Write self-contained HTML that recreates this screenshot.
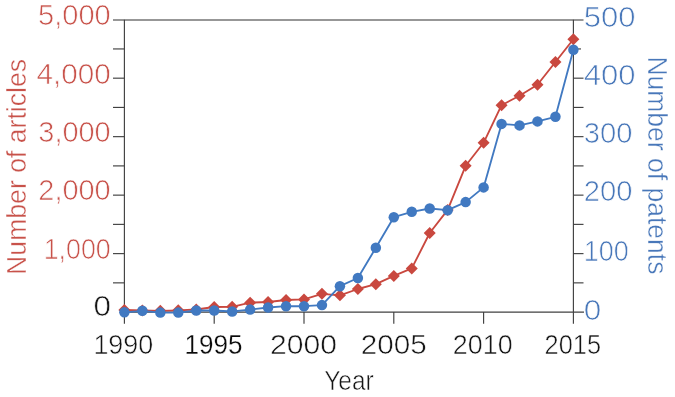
<!DOCTYPE html>
<html><head><meta charset="utf-8"><title>Chart</title>
<style>html,body{margin:0;padding:0;background:#fff}svg{display:block}text{font-family:"Liberation Sans",sans-serif;font-size:28.6px;stroke:#fff;stroke-width:0.7px}.t{font-size:26.8px;stroke-width:0.45px}.x{font-size:28px}.k{stroke-width:0.55px}.b{stroke-width:0.3px}</style></head><body>
<svg width="675" height="397" viewBox="0 0 675 397">
<rect width="675" height="397" fill="#fff"/>
<line x1="113" y1="20.0" x2="583.5" y2="20.0" stroke="#747474" stroke-width="1.6"/>
<line x1="124.4" y1="19.7" x2="124.4" y2="323.7" stroke="#404040" stroke-width="1.15"/>
<line x1="573.4" y1="19.7" x2="573.4" y2="323.7" stroke="#404040" stroke-width="1.15"/>
<line x1="124.4" y1="312.1" x2="584" y2="312.1" stroke="#404040" stroke-width="1.15"/>
<line x1="113" y1="48.94" x2="124.4" y2="48.94" stroke="#404040" stroke-width="1.15"/>
<line x1="573.4" y1="48.94" x2="581" y2="48.94" stroke="#404040" stroke-width="1.15"/>
<line x1="113" y1="78.18" x2="124.4" y2="78.18" stroke="#404040" stroke-width="1.15"/>
<line x1="573.4" y1="78.18" x2="583.5" y2="78.18" stroke="#404040" stroke-width="1.15"/>
<line x1="113" y1="107.42" x2="124.4" y2="107.42" stroke="#404040" stroke-width="1.15"/>
<line x1="573.4" y1="107.42" x2="583.5" y2="107.42" stroke="#404040" stroke-width="1.15"/>
<line x1="113" y1="136.66" x2="124.4" y2="136.66" stroke="#404040" stroke-width="1.15"/>
<line x1="573.4" y1="136.66" x2="583.5" y2="136.66" stroke="#404040" stroke-width="1.15"/>
<line x1="113" y1="165.90" x2="124.4" y2="165.90" stroke="#404040" stroke-width="1.15"/>
<line x1="573.4" y1="165.90" x2="583.5" y2="165.90" stroke="#404040" stroke-width="1.15"/>
<line x1="113" y1="195.14" x2="124.4" y2="195.14" stroke="#404040" stroke-width="1.15"/>
<line x1="573.4" y1="195.14" x2="583.5" y2="195.14" stroke="#404040" stroke-width="1.15"/>
<line x1="113" y1="224.38" x2="124.4" y2="224.38" stroke="#404040" stroke-width="1.15"/>
<line x1="573.4" y1="224.38" x2="583.5" y2="224.38" stroke="#404040" stroke-width="1.15"/>
<line x1="113" y1="253.62" x2="124.4" y2="253.62" stroke="#404040" stroke-width="1.15"/>
<line x1="573.4" y1="253.62" x2="583.5" y2="253.62" stroke="#404040" stroke-width="1.15"/>
<line x1="113" y1="282.86" x2="124.4" y2="282.86" stroke="#404040" stroke-width="1.15"/>
<line x1="573.4" y1="282.86" x2="583.5" y2="282.86" stroke="#404040" stroke-width="1.15"/>
<line x1="214.20" y1="312.1" x2="214.20" y2="323.7" stroke="#404040" stroke-width="1.15"/>
<line x1="304.00" y1="312.1" x2="304.00" y2="323.7" stroke="#404040" stroke-width="1.15"/>
<line x1="393.80" y1="312.1" x2="393.80" y2="323.7" stroke="#404040" stroke-width="1.15"/>
<line x1="483.60" y1="312.1" x2="483.60" y2="323.7" stroke="#404040" stroke-width="1.15"/>
<text x="110.7" y="25.4" text-anchor="end" fill="#c8524a" textLength="72.7" lengthAdjust="spacingAndGlyphs">5,000</text>
<text x="110.7" y="83.6" text-anchor="end" fill="#c8524a" textLength="74.3" lengthAdjust="spacingAndGlyphs">4,000</text>
<text x="110.7" y="142.0" text-anchor="end" fill="#c8524a" textLength="72.4" lengthAdjust="spacingAndGlyphs">3,000</text>
<text x="110.7" y="200.1" text-anchor="end" fill="#c8524a" textLength="72.4" lengthAdjust="spacingAndGlyphs">2,000</text>
<text x="110.7" y="258.7" text-anchor="end" fill="#c8524a" textLength="67.0" lengthAdjust="spacingAndGlyphs">1,000</text>
<text x="111" y="316.3" text-anchor="end" class="k" fill="#151515" textLength="17.5" lengthAdjust="spacingAndGlyphs">0</text>
<text x="583.8" y="26.9" fill="#4877b9" textLength="51.8" lengthAdjust="spacingAndGlyphs">500</text>
<text x="583.8" y="84.9" fill="#4877b9" textLength="51.8" lengthAdjust="spacingAndGlyphs">400</text>
<text x="583.8" y="143" fill="#4877b9" textLength="48.8" lengthAdjust="spacingAndGlyphs">300</text>
<text x="583.8" y="201.3" fill="#4877b9" textLength="48.8" lengthAdjust="spacingAndGlyphs">200</text>
<text x="583.8" y="260.8" fill="#4877b9" textLength="45" lengthAdjust="spacingAndGlyphs">100</text>
<text x="583.8" y="319.5" fill="#4877b9" textLength="17.5" lengthAdjust="spacingAndGlyphs">0</text>
<text class="x k" x="93.4" y="354.1" fill="#151515" textLength="59.9" lengthAdjust="spacingAndGlyphs">1990</text>
<text class="x b" x="184.6" y="354.1" fill="#0a0a0a" textLength="58.0" lengthAdjust="spacingAndGlyphs">1995</text>
<text class="x k" x="270" y="354.1" fill="#151515" textLength="67.0" lengthAdjust="spacingAndGlyphs">2000</text>
<text class="x k" x="360.8" y="354.1" fill="#151515" textLength="66.0" lengthAdjust="spacingAndGlyphs">2005</text>
<text class="x k" x="452.8" y="354.1" fill="#151515" textLength="59.8" lengthAdjust="spacingAndGlyphs">2010</text>
<text class="x k" x="544.6" y="354.1" fill="#151515" textLength="56.4" lengthAdjust="spacingAndGlyphs">2015</text>
<text class="x k" x="324.2" y="390" fill="#151515" textLength="49.5" lengthAdjust="spacingAndGlyphs">Year</text>
<text class="t" transform="translate(25.7,274.9) rotate(-90)" fill="#c8524a" textLength="216" lengthAdjust="spacingAndGlyphs">Number of articles</text>
<text class="t" transform="translate(648.2,56.4) rotate(90)" fill="#4877b9" textLength="218" lengthAdjust="spacingAndGlyphs">Number of patents</text>
<polyline points="124.40,310.00 142.36,310.50 160.32,310.80 178.28,310.30 196.24,309.50 214.20,307.00 232.16,306.80 250.12,302.70 268.08,302.00 286.04,300.00 304.00,299.40 321.96,293.80 339.92,295.30 357.88,289.00 375.84,284.20 393.80,275.90 411.76,268.40 429.72,233.00 447.68,209.90 465.64,165.80 483.60,142.80 501.56,105.20 519.52,95.80 537.48,84.80 555.44,62.00 573.40,39.20" fill="none" stroke="#c9483f" stroke-width="1.85" stroke-linejoin="round"/>
<path d="M124.40 304.00L130.40 310.00L124.40 316.00L118.40 310.00Z" fill="#c9483f"/>
<path d="M142.36 304.50L148.36 310.50L142.36 316.50L136.36 310.50Z" fill="#c9483f"/>
<path d="M160.32 304.80L166.32 310.80L160.32 316.80L154.32 310.80Z" fill="#c9483f"/>
<path d="M178.28 304.30L184.28 310.30L178.28 316.30L172.28 310.30Z" fill="#c9483f"/>
<path d="M196.24 303.50L202.24 309.50L196.24 315.50L190.24 309.50Z" fill="#c9483f"/>
<path d="M214.20 301.00L220.20 307.00L214.20 313.00L208.20 307.00Z" fill="#c9483f"/>
<path d="M232.16 300.80L238.16 306.80L232.16 312.80L226.16 306.80Z" fill="#c9483f"/>
<path d="M250.12 296.70L256.12 302.70L250.12 308.70L244.12 302.70Z" fill="#c9483f"/>
<path d="M268.08 296.00L274.08 302.00L268.08 308.00L262.08 302.00Z" fill="#c9483f"/>
<path d="M286.04 294.00L292.04 300.00L286.04 306.00L280.04 300.00Z" fill="#c9483f"/>
<path d="M304.00 293.40L310.00 299.40L304.00 305.40L298.00 299.40Z" fill="#c9483f"/>
<path d="M321.96 287.80L327.96 293.80L321.96 299.80L315.96 293.80Z" fill="#c9483f"/>
<path d="M339.92 289.30L345.92 295.30L339.92 301.30L333.92 295.30Z" fill="#c9483f"/>
<path d="M357.88 283.00L363.88 289.00L357.88 295.00L351.88 289.00Z" fill="#c9483f"/>
<path d="M375.84 278.20L381.84 284.20L375.84 290.20L369.84 284.20Z" fill="#c9483f"/>
<path d="M393.80 269.90L399.80 275.90L393.80 281.90L387.80 275.90Z" fill="#c9483f"/>
<path d="M411.76 262.40L417.76 268.40L411.76 274.40L405.76 268.40Z" fill="#c9483f"/>
<path d="M429.72 227.00L435.72 233.00L429.72 239.00L423.72 233.00Z" fill="#c9483f"/>
<path d="M447.68 203.90L453.68 209.90L447.68 215.90L441.68 209.90Z" fill="#c9483f"/>
<path d="M465.64 159.80L471.64 165.80L465.64 171.80L459.64 165.80Z" fill="#c9483f"/>
<path d="M483.60 136.80L489.60 142.80L483.60 148.80L477.60 142.80Z" fill="#c9483f"/>
<path d="M501.56 99.20L507.56 105.20L501.56 111.20L495.56 105.20Z" fill="#c9483f"/>
<path d="M519.52 89.80L525.52 95.80L519.52 101.80L513.52 95.80Z" fill="#c9483f"/>
<path d="M537.48 78.80L543.48 84.80L537.48 90.80L531.48 84.80Z" fill="#c9483f"/>
<path d="M555.44 56.00L561.44 62.00L555.44 68.00L549.44 62.00Z" fill="#c9483f"/>
<path d="M573.40 33.20L579.40 39.20L573.40 45.20L567.40 39.20Z" fill="#c9483f"/>
<polyline points="124.40,312.30 142.36,310.80 160.32,312.60 178.28,312.60 196.24,310.50 214.20,310.50 232.16,311.50 250.12,309.60 268.08,307.50 286.04,306.20 304.00,306.20 321.96,305.10 339.92,286.20 357.88,278.00 375.84,247.80 393.80,217.20 411.76,211.80 429.72,208.50 447.68,210.20 465.64,202.10 483.60,187.40 501.56,123.90 519.52,125.40 537.48,121.40 555.44,116.80 573.40,49.70" fill="none" stroke="#4179c1" stroke-width="1.85" stroke-linejoin="round"/>
<circle cx="124.40" cy="312.30" r="5.25" fill="#4179c1"/>
<circle cx="142.36" cy="310.80" r="5.25" fill="#4179c1"/>
<circle cx="160.32" cy="312.60" r="5.25" fill="#4179c1"/>
<circle cx="178.28" cy="312.60" r="5.25" fill="#4179c1"/>
<circle cx="196.24" cy="310.50" r="5.25" fill="#4179c1"/>
<circle cx="214.20" cy="310.50" r="5.25" fill="#4179c1"/>
<circle cx="232.16" cy="311.50" r="5.25" fill="#4179c1"/>
<circle cx="250.12" cy="309.60" r="5.25" fill="#4179c1"/>
<circle cx="268.08" cy="307.50" r="5.25" fill="#4179c1"/>
<circle cx="286.04" cy="306.20" r="5.25" fill="#4179c1"/>
<circle cx="304.00" cy="306.20" r="5.25" fill="#4179c1"/>
<circle cx="321.96" cy="305.10" r="5.25" fill="#4179c1"/>
<circle cx="339.92" cy="286.20" r="5.25" fill="#4179c1"/>
<circle cx="357.88" cy="278.00" r="5.25" fill="#4179c1"/>
<circle cx="375.84" cy="247.80" r="5.25" fill="#4179c1"/>
<circle cx="393.80" cy="217.20" r="5.25" fill="#4179c1"/>
<circle cx="411.76" cy="211.80" r="5.25" fill="#4179c1"/>
<circle cx="429.72" cy="208.50" r="5.25" fill="#4179c1"/>
<circle cx="447.68" cy="210.20" r="5.25" fill="#4179c1"/>
<circle cx="465.64" cy="202.10" r="5.25" fill="#4179c1"/>
<circle cx="483.60" cy="187.40" r="5.25" fill="#4179c1"/>
<circle cx="501.56" cy="123.90" r="5.25" fill="#4179c1"/>
<circle cx="519.52" cy="125.40" r="5.25" fill="#4179c1"/>
<circle cx="537.48" cy="121.40" r="5.25" fill="#4179c1"/>
<circle cx="555.44" cy="116.80" r="5.25" fill="#4179c1"/>
<circle cx="573.40" cy="49.70" r="5.25" fill="#4179c1"/>
</svg></body></html>
